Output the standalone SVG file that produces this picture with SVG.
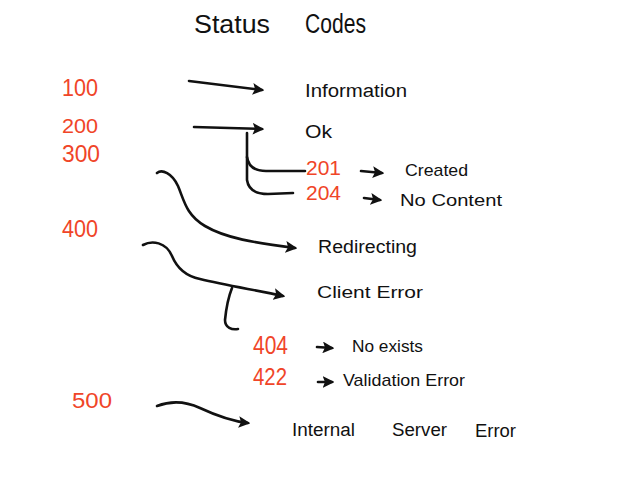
<svg xmlns="http://www.w3.org/2000/svg" width="621" height="496" viewBox="0 0 621 496">
<defs>
<style>
.t{font-family:"Liberation Sans",Arial,sans-serif;fill:#111;}
.r{font-family:"Liberation Sans",Arial,sans-serif;fill:#f04528;}
.c{fill:none;stroke:#111;stroke-width:2.6;stroke-linecap:round;stroke-linejoin:round;}
.a{marker-end:url(#ah);}
</style>
<marker id="ah" viewBox="0 0 10 10" refX="8" refY="5" markerWidth="4.5" markerHeight="4.5" orient="auto" markerUnits="strokeWidth">
<path d="M0,0 L10,5 L0,10 L2,5 Z" fill="#111"/>
</marker>
</defs>
<rect width="621" height="496" fill="#ffffff"/>
<g id="title">
<text class="t" x="194" y="33" font-size="26" textLength="76" lengthAdjust="spacingAndGlyphs">Status</text>
<text class="t" x="305" y="33" font-size="27" textLength="61" lengthAdjust="spacingAndGlyphs">Codes</text>
</g>
<g id="connectors">
<path class="c a" d="M189,81 L262,90"/>
<path class="c a" d="M194,127 L262,129"/>
<path class="c" d="M247,133 L247,157 Q249,171 266,171 L305,171"/>
<path class="c" d="M247,157 L247,180 Q249,194 268,194 L293,193"/>
<path class="c a" d="M361,171 L382,173"/>
<path class="c a" d="M364,198 L380,200"/>
<path class="c a" d="M157,173 C162,169 172,173 178,186 C184,200 186,215 205,226 C225,238 255,243 295,248"/>
<path class="c a" d="M143,245 C152,240 166,242 172,256 C177,268 185,276 200,279 C225,285 255,290 283,296"/>
<path class="c" d="M232,288 C228,298 226,310 225,320 C225,328 232,330 238,329"/>
<path class="c a" d="M317,347 L332,348"/>
<path class="c a" d="M318,382 L332,382"/>
<path class="c a" d="M157,406 C170,401 185,401 200,408 C215,415 230,421 248,423"/>
</g>
<g id="n100"><text class="r" x="62" y="96" font-size="24" textLength="36" lengthAdjust="spacingAndGlyphs">100</text></g>
<g id="n200"><text class="r" x="62" y="133" font-size="20" textLength="36" lengthAdjust="spacingAndGlyphs">200</text></g>
<g id="n300"><text class="r" x="62" y="162" font-size="24" textLength="38" lengthAdjust="spacingAndGlyphs">300</text></g>
<g id="n400"><text class="r" x="62" y="237" font-size="24" textLength="36" lengthAdjust="spacingAndGlyphs">400</text></g>
<g id="n500"><text class="r" x="72" y="408" font-size="22" textLength="40" lengthAdjust="spacingAndGlyphs">500</text></g>
<g id="information"><text class="t" x="305" y="97" font-size="18" textLength="102" lengthAdjust="spacingAndGlyphs">Information</text></g>
<g id="ok"><text class="t" x="305" y="138" font-size="19" textLength="27" lengthAdjust="spacingAndGlyphs">Ok</text></g>
<g id="n201"><text class="r" x="306" y="175" font-size="20" textLength="35" lengthAdjust="spacingAndGlyphs">201</text></g>
<g id="n204"><text class="r" x="306" y="200" font-size="20" textLength="35" lengthAdjust="spacingAndGlyphs">204</text></g>
<g id="created"><text class="t" x="405" y="176" font-size="17" textLength="63" lengthAdjust="spacingAndGlyphs">Created</text></g>
<g id="nocontent"><text class="t" x="400" y="206" font-size="17" textLength="102" lengthAdjust="spacingAndGlyphs">No Content</text></g>
<g id="redirecting"><text class="t" x="318" y="253" font-size="18" textLength="99" lengthAdjust="spacingAndGlyphs">Redirecting</text></g>
<g id="clienterror"><text class="t" x="317" y="298" font-size="17" textLength="106" lengthAdjust="spacingAndGlyphs">Client Error</text></g>
<g id="n404"><text class="r" x="253" y="354" font-size="26" textLength="35" lengthAdjust="spacingAndGlyphs">404</text></g>
<g id="n422"><text class="r" x="253" y="385" font-size="24" textLength="34" lengthAdjust="spacingAndGlyphs">422</text></g>
<g id="noexists"><text class="t" x="352" y="352" font-size="17" textLength="71" lengthAdjust="spacingAndGlyphs">No exists</text></g>
<g id="validationerror"><text class="t" x="343" y="386" font-size="17" textLength="122" lengthAdjust="spacingAndGlyphs">Validation Error</text></g>
<g id="internalservererror">
<text class="t" x="292" y="436" font-size="18" textLength="63" lengthAdjust="spacingAndGlyphs">Internal</text>
<text class="t" x="392" y="436" font-size="18" textLength="55" lengthAdjust="spacingAndGlyphs">Server</text>
<text class="t" x="475" y="437" font-size="18" textLength="41" lengthAdjust="spacingAndGlyphs">Error</text>
</g>
</svg>
